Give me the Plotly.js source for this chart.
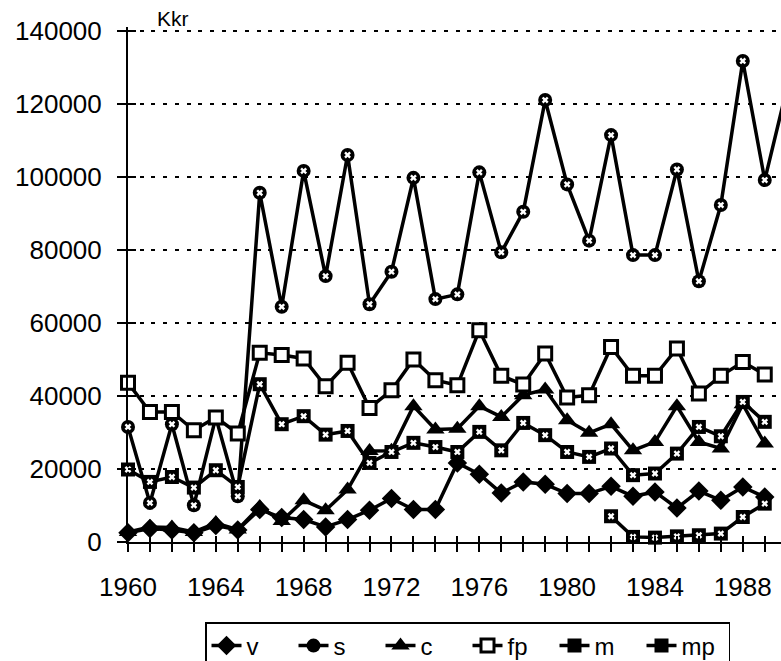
<!DOCTYPE html>
<html>
<head>
<meta charset="utf-8">
<script src="https://cdn.plot.ly/plotly-3.0.1.min.js"></script>
<style>html,body{margin:0;padding:0;background:#fff;}#chart{width:781px;height:661px;}</style>
</head>
<body>
<div id="chart"></div>
<script>
const years = [1960,1961,1962,1963,1964,1965,1966,1967,1968,1969,1970,1971,1972,1973,1974,1975,1976,1977,1978,1979,1980,1981,1982,1983,1984,1985,1986,1987,1988,1989,1990];
const seriesNames = ['v','s','c','fp','m','mp'];
const v  = [2500,3700,3300,2500,4500,3300,8900,6700,6150,4100,6150,8700,11900,8900,8900,21650,18550,13400,16450,15800,13250,13250,15250,12500,13700,9300,13950,11400,15050,12300,null];
const s  = [31500,10700,32250,10050,34100,12500,95600,64400,101600,72800,105950,65100,74000,99700,66500,67800,101200,79300,90400,121000,97900,82500,111400,78550,78550,102000,71400,92250,131700,99100,124000];
const c  = [2740,4100,3950,2740,5200,3400,9600,5750,11400,8700,14350,24900,25000,37200,30800,31000,37200,34250,40200,41750,33350,29900,32250,25100,27400,37200,27400,25600,37700,26950,null];
const fp = [43600,35600,35600,30600,34100,29700,51800,51200,50250,42650,49050,36700,41550,50000,44300,42900,58000,45500,43100,51600,39550,40200,53400,45500,45500,53000,40650,45500,49300,45850,null];
const m  = [19850,16450,17800,14900,19650,15070,43200,32250,34450,29400,30400,21650,24650,27150,26000,24650,30150,25100,32600,29250,24650,23300,25600,18300,18750,24200,31500,28950,38350,32900,null];
const mp = [null,null,null,null,null,null,null,null,null,null,null,null,null,null,null,null,null,null,null,null,null,null,7050,1400,1200,1550,1850,2300,6850,10500,null];
const yTicks = [0,20000,40000,60000,80000,100000,120000,140000];
const xLabelYears = [1960,1964,1968,1972,1976,1980,1984,1988];
const unitLabel = 'Kkr';

const FONT = 'Liberation Sans, Arial, sans-serif';
const lineStyle = {color:'#000', width:3.5};
const tickYears = years.slice(0, 30);
const tickText = tickYears.map(y => xLabelYears.indexOf(y) >= 0 ? String(y) : '');

function main(name, y, symbol, size, fill, lw){
  return {type:'scatter', mode:'lines+markers', name:name, x:years, y:y,
    line:lineStyle, cliponaxis:false, connectgaps:false,
    marker:{symbol:symbol, size:size, color:fill, line:{color:'#000', width:lw}}};
}
function deco(y){
  return {type:'scatter', mode:'markers', x:years, y:y, xaxis:'x2', yaxis:'y2',
    showlegend:false, hoverinfo:'skip', cliponaxis:false,
    marker:{symbol:'x', size:6, color:'#fff', line:{width:0}}};
}

const traces = [
  main(seriesNames[0], v, 'diamond', 15, '#000', 0),
  main(seriesNames[1], s, 'circle', 14, '#000', 0),
  main(seriesNames[2], c, 'triangle-up', 16, '#000', 0),
  main(seriesNames[3], fp, 'square', 13, '#fff', 3),
  main(seriesNames[4], m, 'square', 14, '#000', 0),
  main(seriesNames[5], mp, 'square', 14, '#000', 0),
  deco(s), deco(m), deco(mp)
];

const XR = [1960, 1989.74];
const YR = [0, 141000];
const TOP = 27, BOT = 119;
const plotH = 661 - TOP - BOT;

const layout = {
  width:781, height:661,
  margin:{l:128, r:0, t:TOP, b:BOT, pad:0},
  paper_bgcolor:'#fff', plot_bgcolor:'rgba(0,0,0,0)',
  font:{family:FONT, color:'#000', size:24},
  showlegend:true,
  xaxis:{range:XR, domain:[0,1], anchor:'y', showgrid:false, zeroline:false, showline:true,
    linecolor:'#000', linewidth:2, fixedrange:true,
    tickmode:'array', tickvals:tickYears, ticktext:tickText,
    ticks:'outside', ticklen:8, tickwidth:2, tickcolor:'#000',
    ticklabelstandoff:13,
    tickfont:{family:FONT, size:26, color:'#000'}},
  yaxis:{range:YR, domain:[0,1], anchor:'x', zeroline:false, showline:true,
    linecolor:'#000', linewidth:2, fixedrange:true,
    tickmode:'array', tickvals:yTicks, ticktext:yTicks.map(String),
    ticks:'outside', ticklen:9, tickwidth:2, tickcolor:'#000',
    showgrid:true, gridcolor:'#000', gridwidth:2, griddash:'4px,7.7px',
    ticklabelstandoff:10,
    tickfont:{family:FONT, size:26, color:'#000'}},
  xaxis2:{range:XR, domain:[0,1], anchor:'y2', side:'bottom', showgrid:false, zeroline:false,
    showline:false, fixedrange:true, tickmode:'array', tickvals:tickYears, showticklabels:false,
    ticks:'inside', ticklen:6, tickwidth:2, tickcolor:'#000'},
  yaxis2:{range:YR, domain:[0,1], anchor:'x2', side:'left', showgrid:false, zeroline:false,
    showline:false, fixedrange:true, tickmode:'array', tickvals:yTicks, showticklabels:false,
    ticks:'inside', ticklen:8, tickwidth:2, tickcolor:'#000'},
  legend:{orientation:'h', xref:'container', yref:'container', x:205/781, y:1-622/661,
    xanchor:'left', yanchor:'top', bgcolor:'#fff', bordercolor:'#000', borderwidth:1.5,
    font:{family:FONT, size:24, color:'#000'}, traceorder:'normal', entrywidth:42},
  annotations:[{text:unitLabel, xref:'paper', yref:'paper', x:(173-128)/653, y:1 + (TOP - 19) / plotH,
    xanchor:'center', yanchor:'middle', showarrow:false, font:{family:FONT, size:21, color:'#000'}}]
};

Plotly.newPlot('chart', traces, layout, {displayModeBar:false, staticPlot:true});
</script>
</body>
</html>
